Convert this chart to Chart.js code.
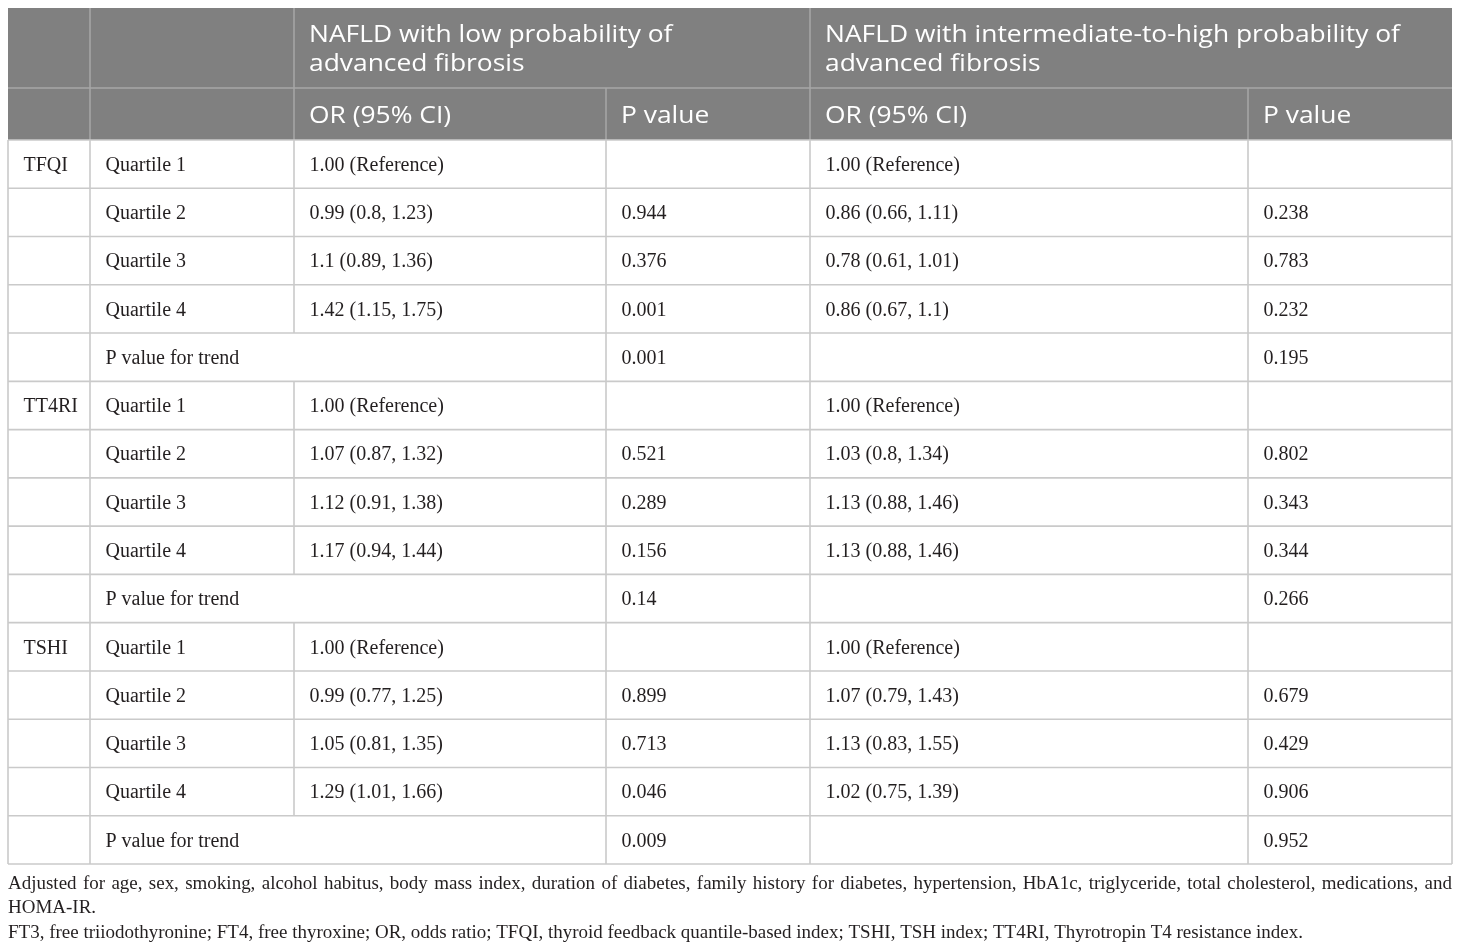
<!DOCTYPE html>
<html>

<head>
    <title>NAFLD fibrosis table</title>
    <script src="https://cdn.jsdelivr.net/npm/chart.js@4.4.1/dist/chart.umd.min.js"></script>
    <style>
        body {
            margin: 0;
            background-color: white;
        }

        #wrap {
            width: 1460px;
            height: 951px;
            position: relative;
        }
    </style>
</head>

<body>
    <div id="wrap">
        <canvas id="tbl"></canvas>
    </div>

    <script>
        // table content
        const groups = ['TFQI', 'TT4RI', 'TSHI']
        const rowNames = ['Quartile 1', 'Quartile 2', 'Quartile 3', 'Quartile 4', 'P value for trend']
        const headTop = ['NAFLD with low probability of\nadvanced fibrosis', 'NAFLD with intermediate-to-high probability of\nadvanced fibrosis']
        const headSub = ['OR (95% CI)', 'P value', 'OR (95% CI)', 'P value']

        const lowOR = [
            '1.00 (Reference)', '0.99 (0.8, 1.23)', '1.1 (0.89, 1.36)', '1.42 (1.15, 1.75)', '',
            '1.00 (Reference)', '1.07 (0.87, 1.32)', '1.12 (0.91, 1.38)', '1.17 (0.94, 1.44)', '',
            '1.00 (Reference)', '0.99 (0.77, 1.25)', '1.05 (0.81, 1.35)', '1.29 (1.01, 1.66)', ''
        ]
        const lowP = [
            '', '0.944', '0.376', '0.001', '0.001',
            '', '0.521', '0.289', '0.156', '0.14',
            '', '0.899', '0.713', '0.046', '0.009'
        ]
        const highOR = [
            '1.00 (Reference)', '0.86 (0.66, 1.11)', '0.78 (0.61, 1.01)', '0.86 (0.67, 1.1)', '',
            '1.00 (Reference)', '1.03 (0.8, 1.34)', '1.13 (0.88, 1.46)', '1.13 (0.88, 1.46)', '',
            '1.00 (Reference)', '1.07 (0.79, 1.43)', '1.13 (0.83, 1.55)', '1.02 (0.75, 1.39)', ''
        ]
        const highP = [
            '', '0.238', '0.783', '0.232', '0.195',
            '', '0.802', '0.343', '0.344', '0.266',
            '', '0.679', '0.429', '0.906', '0.952'
        ]

        const notes = [
            'Adjusted for age, sex, smoking, alcohol habitus, body mass index, duration of diabetes, family history for diabetes, hypertension, HbA1c, triglyceride, total cholesterol, medications, and',
            'HOMA-IR.',
            'FT3, free triiodothyronine; FT4, free thyroxine; OR, odds ratio; TFQI, thyroid feedback quantile-based index; TSHI, TSH index; TT4RI, Thyrotropin T4 resistance index.'
        ]

        // layout
        const colEdges = [0, 82, 286, 598, 802, 1240, 1444]
        const pad = 15
        const serif = '"Liberation Serif", "DejaVu Serif", serif'
        const sans = '"Open Sans", "Noto Sans", sans-serif'
        const lineCol = '#cacaca'
        const headStretch = 1.1
        const noteLastWidth = 1295

        const rowKeys = []
        groups.forEach(g => rowNames.forEach(r => rowKeys.push(g + ' ' + r)))

        function colData(col, texts) {
            return texts.map((t, i) => ({ x: colEdges[col] + pad, y: rowKeys[i], t: t }))
        }
        const groupTexts = rowKeys.map((k, i) => i % 5 == 0 ? groups[i / 5] : '')
        const nameTexts = rowKeys.map((k, i) => rowNames[i % 5])

        function stretchText(ctx, text, x, y, sx) {
            ctx.save()
            ctx.translate(x, y)
            ctx.scale(sx, 1)
            ctx.fillText(text, 0, 0)
            ctx.restore()
        }

        const tablePlugin = {
            id: 'tableCells',
            afterDraw(chart) {
                const ctx = chart.ctx
                const area = chart.chartArea
                const xs = chart.scales.x
                const ys = chart.scales.y
                const band = ys.getPixelForValue(1) - ys.getPixelForValue(0)
                const cx = colEdges.map(v => xs.getPixelForValue(v))
                const top = area.top - 132
                ctx.save()

                // header background
                ctx.fillStyle = '#808080'
                ctx.fillRect(cx[0], top, cx[6] - cx[0], 132)
                ctx.strokeStyle = '#a6a6a6'
                ctx.lineWidth = 1.5
                ctx.beginPath()
                ctx.moveTo(cx[0], top + 80); ctx.lineTo(cx[6], top + 80)
                ;[1, 2, 4].forEach(c => { ctx.moveTo(cx[c], top); ctx.lineTo(cx[c], area.top) })
                ;[3, 5].forEach(c => { ctx.moveTo(cx[c], top + 80); ctx.lineTo(cx[c], area.top) })
                ctx.stroke()

                ctx.fillStyle = 'white'
                ctx.font = '24px ' + sans
                ctx.textBaseline = 'middle'
                headTop.forEach((h, i) => {
                    h.split('\n').forEach((ln, j) => stretchText(ctx, ln, cx[i * 2 + 2] + pad, top + 27 + j * 29, headStretch))
                })
                headSub.forEach((h, i) => stretchText(ctx, h, cx[i + 2] + pad, top + 108, headStretch))

                // body grid
                ctx.strokeStyle = lineCol
                ctx.lineWidth = 1.6
                ctx.beginPath()
                for (let i = 0; i <= rowKeys.length; i++) {
                    const yy = ys.getPixelForValue(i) - band / 2
                    ctx.moveTo(cx[0], yy); ctx.lineTo(cx[6], yy)
                }
                rowKeys.forEach((k, i) => {
                    const y0 = ys.getPixelForValue(i) - band / 2
                    colEdges.forEach((e, c) => {
                        if (c == 2 && i % 5 == 4) return
                        ctx.moveTo(cx[c], y0); ctx.lineTo(cx[c], y0 + band)
                    })
                })
                ctx.stroke()

                // cell texts from the dataset points
                ctx.fillStyle = '#231f20'
                ctx.font = '20px ' + serif
                chart.data.datasets.forEach((ds, d) => {
                    chart.getDatasetMeta(d).data.forEach((pt, i) => {
                        const t = ds.data[i].t
                        if (t) ctx.fillText(t, pt.x + 0.5, pt.y + 1.5)
                    })
                })

                // footnotes, fitted so the last line ends where it does in print
                ctx.font = '19px ' + serif
                const sx = noteLastWidth / ctx.measureText(notes[2]).width
                const left = cx[0], width = cx[6] - cx[0]
                const ny = [884, 908, 933]
                notes.forEach((n, i) => {
                    if (i == 0) {
                        const words = n.split(' ')
                        const wsum = words.reduce((s, w) => s + ctx.measureText(w).width * sx, 0)
                        const gap = (width - wsum) / (words.length - 1)
                        let xx = left
                        words.forEach(w => {
                            stretchText(ctx, w, xx, ny[i], sx)
                            xx += ctx.measureText(w).width * sx + gap
                        })
                    } else {
                        stretchText(ctx, n, left, ny[i], sx)
                    }
                })
                ctx.restore()
            }
        }

        const tctx = document.getElementById('tbl').getContext('2d')
        var table = new Chart(tctx, {
            type: 'scatter',
            data: {
                labels: rowKeys,
                datasets: [
                    { data: colData(0, groupTexts) },
                    { data: colData(1, nameTexts) },
                    { data: colData(2, lowOR) },
                    { data: colData(3, lowP) },
                    { data: colData(4, highOR) },
                    { data: colData(5, highP) },
                ]
            },
            options: {
                responsive: true,
                maintainAspectRatio: false,
                animation: false,
                events: [],
                layout: { padding: { top: 140, bottom: 87, left: 8, right: 8 } },
                elements: { point: { radius: 0, hoverRadius: 0 } },
                plugins: { legend: { display: false }, tooltip: { enabled: false } },
                scales: {
                    x: { type: 'linear', min: 0, max: 1444, display: false },
                    y: { type: 'category', labels: rowKeys, offset: true, display: false }
                }
            },
            plugins: [tablePlugin]
        })
    </script>
</body>

</html>
